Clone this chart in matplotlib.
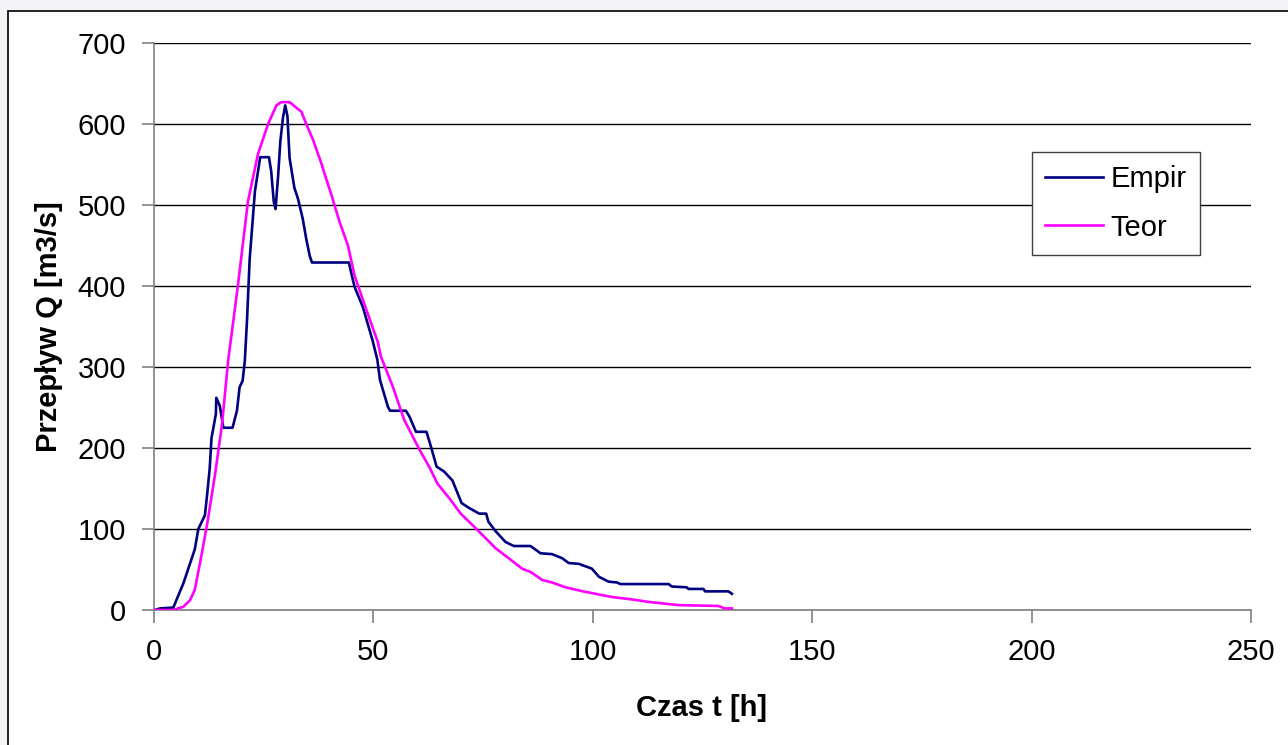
import matplotlib
matplotlib.use("Agg")
import matplotlib.pyplot as plt
from matplotlib.patches import Rectangle

# Empirical hydrograph (time [h], discharge [m3/s])
empir_t = [0.2, 1.4, 4.4, 6.7, 9.3, 10.1, 11.6, 12.1, 12.7, 13.1, 14.1, 14.2, 15.0, 15.8,
           17.9, 18.9, 19.5, 20.2, 20.7, 21.2, 21.8, 23.0, 24.2, 26.2, 26.7, 27.3, 27.7,
           28.3, 28.8, 29.4, 29.9, 30.4, 30.9, 32.0, 32.8, 33.9, 34.7, 35.5, 36.0, 44.4,
           45.7, 47.6, 49.8, 50.9, 51.5, 53.3, 53.8, 57.4, 58.2, 59.7, 62.1, 63.1, 64.4,
           66.1, 68.0, 68.9, 70.1, 71.8, 74.1, 75.7, 76.2, 77.9, 80.1, 82.0, 85.8, 88.1,
           90.7, 93.0, 94.5, 96.8, 99.8, 101.4, 103.6, 105.5, 106.3, 117.3, 118.0, 121.4,
           121.8, 125.2, 125.6, 130.9, 131.7]
empir_q = [0, 2, 3, 33, 75, 100, 117, 142, 175, 212, 242, 262, 252, 225,
           225, 246, 275, 283, 308, 358, 433, 517, 559, 559, 542, 504, 495,
           537, 579, 608, 623, 610, 558, 521, 508, 483, 458, 437, 429, 429,
           399, 374, 333, 309, 284, 251, 246, 246, 239, 220, 220, 202, 177,
           171, 160, 148, 132, 126, 119, 119, 109, 97, 84, 79, 79, 70,
           69, 64, 58, 57, 51, 41, 35, 34, 32, 32, 29, 28,
           26, 26, 23, 23, 20]

# Theoretical hydrograph
teor_t = [0.2, 4.4, 6.7, 8.2, 9.3, 10.8, 12.3, 13.9, 15.5, 16.9, 19.2, 21.4, 23.7, 26.0,
          27.9, 29.0, 30.9, 33.6, 34.7, 36.2, 38.1, 39.2, 40.4, 42.3, 44.2, 45.7, 48.3,
          51.0, 51.7, 54.4, 57.0, 60.5, 62.7, 64.6, 67.3, 69.9, 73.3, 77.9, 81.3, 83.9,
          85.8, 88.5, 90.7, 93.8, 97.8, 100.6, 104.4, 109.0, 112.7, 119.5, 128.6, 130.1,
          131.7]
teor_q = [0, 0, 4, 12, 25, 67, 112, 167, 229, 308, 404, 504, 563, 600,
          623, 627, 627, 615, 600, 581, 552, 533, 513, 479, 450, 413, 372,
          331, 313, 276, 235, 198, 177, 156, 138, 119, 101, 76, 62, 51,
          47, 37, 34, 28, 23, 20, 16, 13, 10, 6, 5, 2,
          2]

x_ticks = [0, 50, 100, 150, 200, 250]
y_ticks = [0, 100, 200, 300, 400, 500, 600, 700]

plt.rcParams['font.family'] = ['Liberation Sans', 'DejaVu Sans']

fig = plt.figure(figsize=(12.88, 7.45), dpi=100)
fig.patch.set_facecolor('#f3f3f8')
bg = Rectangle((8 / 1288, -0.05), 1.2, 0.05 + (745 - 11) / 745,
               transform=fig.transFigure, facecolor='white',
               edgecolor='black', linewidth=1.2, zorder=-10)
fig.patches.append(bg)

ax = fig.add_axes([154 / 1288, (745 - 610) / 745, (1251 - 154) / 1288, (610 - 43) / 745])
ax.set_zorder(1)
ax.set_facecolor('white')

ax.plot(empir_t, empir_q, color='#000080', linewidth=1.9, label='Empir', zorder=3)
ax.plot(teor_t, teor_q, color='#ff00ff', linewidth=1.9, label='Teor', zorder=3)

ax.set_xlim(0, 250)
ax.set_ylim(0, 700)
ax.set_xticks(x_ticks)
ax.set_yticks(y_ticks)
ax.yaxis.grid(True, color='black', linewidth=1.0, zorder=1)
ax.set_axisbelow(True)

for s in ['top', 'right']:
    ax.spines[s].set_visible(False)
for s in ['left', 'bottom']:
    ax.spines[s].set_color('#808080')
    ax.spines[s].set_linewidth(1.2)

ax.tick_params(axis='both', direction='out', length=9, width=1.2, color='#808080',
               labelsize=21, pad=11)

ax.set_xlabel('Czas t [h]', fontsize=21, fontweight='bold')
ax.set_ylabel('Przepływ Q [m3/s]', fontsize=21, fontweight='bold')
ax.xaxis.set_label_coords((702 - 154) / 1097, -(694 - 610) / 567)
ax.yaxis.set_label_coords(-(154 - 63) / 1097, 0.5)

leg = ax.legend(loc='upper left', bbox_to_anchor=((1032 - 154) / 1097, (610 - 152) / 567),
                fontsize=21, frameon=True, fancybox=False, shadow=False,
                handlelength=2.0, handletextpad=0.25, borderpad=0.45, labelspacing=0.7,
                borderaxespad=0)
leg.get_frame().set_edgecolor('#404040')
leg.get_frame().set_linewidth(1.0)
leg.get_frame().set_alpha(1.0)

fig.savefig('out.png', dpi=100, facecolor=fig.get_facecolor())
